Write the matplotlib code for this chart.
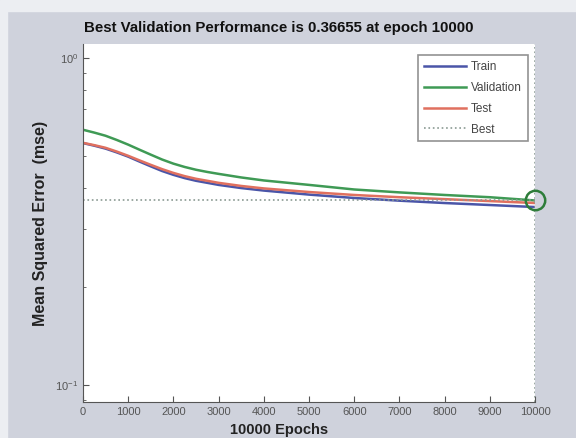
import matplotlib.pyplot as plt
from matplotlib.patches import Rectangle

# dati
epoche = [0, 250, 500, 750, 1000, 1250, 1500, 1750, 2000, 2250, 2500, 2750, 3000, 3500, 4000, 5000, 6000, 7000, 8000, 9000, 10000]
train = [0.549, 0.539, 0.528, 0.514, 0.499, 0.482, 0.466, 0.451, 0.439, 0.429, 0.421, 0.415, 0.409, 0.400, 0.393, 0.382, 0.373, 0.366, 0.360, 0.355, 0.350]
validation = [0.603, 0.591, 0.578, 0.561, 0.543, 0.524, 0.506, 0.489, 0.475, 0.464, 0.455, 0.448, 0.442, 0.431, 0.422, 0.409, 0.396, 0.388, 0.381, 0.375, 0.36655]
test = [0.550, 0.541, 0.531, 0.517, 0.502, 0.486, 0.471, 0.457, 0.445, 0.435, 0.427, 0.421, 0.415, 0.406, 0.399, 0.389, 0.381, 0.375, 0.370, 0.365, 0.360]
best_epoca = 10000
best_valore = 0.36655
xticks = list(range(0, 10001, 1000))

plt.rcParams['font.family'] = ['Liberation Sans', 'DejaVu Sans']

fig = plt.figure(figsize=(5.76, 4.38), dpi=100)
fig.patch.set_facecolor('#cfd2dc')
# bordo chiaro dello screenshot
fig.patches.append(Rectangle((0, 0.975), 1, 0.025, transform=fig.transFigure, color='#eceef2', zorder=0))
fig.patches.append(Rectangle((0, 0), 0.012, 1, transform=fig.transFigure, color='#eceef2', zorder=0))

ax = fig.add_axes([0.144, 0.082, 0.785, 0.818])
ax.set_facecolor('white')

ax.plot(epoche, train, color='#4a55a8', lw=1.8, label='Train')
ax.plot(epoche, validation, color='#3f9a55', lw=1.8, label='Validation')
ax.plot(epoche, test, color='#e0705f', lw=1.8, label='Test')
ax.axhline(best_valore, color='#8a9a92', lw=1.2, ls=':', label='Best')
ax.axvline(best_epoca, color='#8a9a92', lw=1.2, ls=':')
ax.plot([best_epoca], [best_valore], 'o', ms=14, mfc='none', mec='#2e7d3a', mew=1.8, clip_on=False, zorder=5)

ax.set_yscale('log')
ax.set_xlim(0, 10000)
ax.set_ylim(0.0887, 1.104)
ax.set_xticks(xticks)
ax.set_xticklabels([str(t) for t in xticks])
ax.set_yticks([0.1, 1])
ax.tick_params(which='both', direction='in', labelsize=8, colors='#555555', length=4)
ax.tick_params(which='minor', length=2.5)

for lato in ['top', 'right']:
    ax.spines[lato].set_visible(False)
for lato in ['left', 'bottom']:
    ax.spines[lato].set_color('#555555')

fig.text(0.484, 0.935, 'Best Validation Performance is 0.36655 at epoch 10000', fontsize=10.8,
         fontweight='bold', ha='center', va='center', color='#111111')
fig.text(0.485, 0.018, '10000 Epochs', fontsize=10.5, fontweight='bold', ha='center', va='center', color='#222222')
ax.set_ylabel('Mean Squared Error  (mse)', fontsize=11.5, fontweight='bold', labelpad=5, color='#222222')

leg = ax.legend(loc='upper right', fontsize=8.5, frameon=True, fancybox=False, handlelength=3.6,
                borderpad=0.5, labelspacing=0.75, handletextpad=0.4, bbox_to_anchor=(0.997, 0.985))
leg.get_frame().set_edgecolor('#777777')
leg.get_frame().set_linewidth(1.2)
for t in leg.get_texts():
    t.set_color('#444444')

fig.savefig('out.png', dpi=100, facecolor=fig.get_facecolor())
